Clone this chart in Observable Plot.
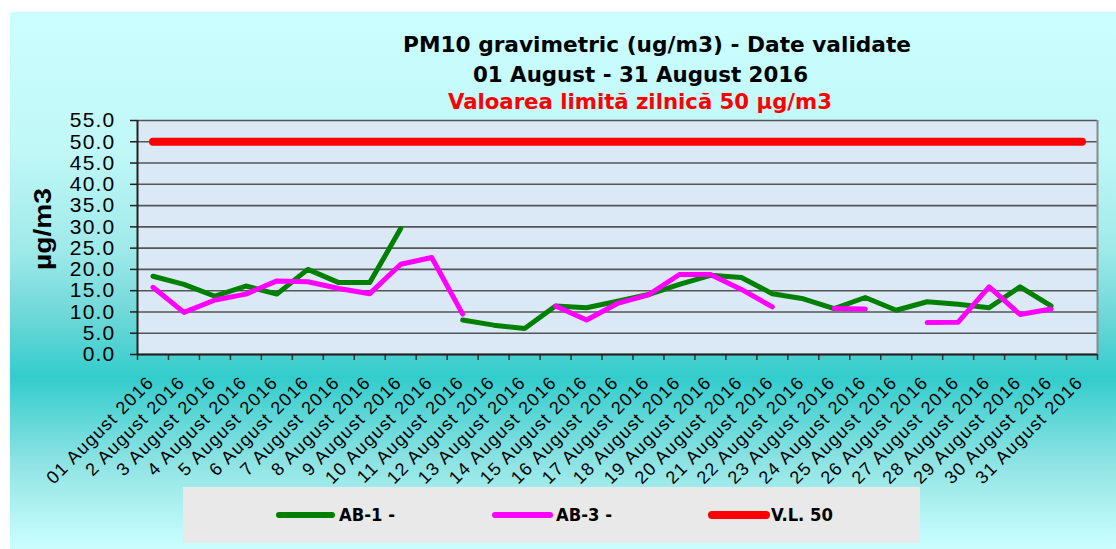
<!DOCTYPE html>
<html><head><meta charset="utf-8">
<script src="https://cdn.jsdelivr.net/npm/d3@7"></script>
<script src="https://cdn.jsdelivr.net/npm/@observablehq/plot@0.6"></script>
<style>
body{margin:0;background:#fff;}
#wrap{position:relative;width:1116px;height:549px;overflow:hidden;}
#wrap svg{position:absolute;left:0;top:0;}
g[aria-label="y-axis tick label"]{letter-spacing:1.2px;}
g[aria-label="x-axis tick label"]{letter-spacing:1.3px;}
</style></head><body><div id="wrap"></div>
<script>
// ---- data ----
const dates = ["01 August 2016","2 August 2016","3 August 2016","4 August 2016","5 August 2016","6 August 2016","7 August 2016","8 August 2016","9 August 2016","10 August 2016","11 August 2016","12 August 2016","13 August 2016","14 August 2016","15 August 2016","16 August 2016","17 August 2016","18 August 2016","19 August 2016","20 August 2016","21 August 2016","22 August 2016","23 August 2016","24 August 2016","25 August 2016","26 August 2016","27 August 2016","28 August 2016","29 August 2016","30 August 2016","31 August 2016"];
const ab1 = [18.4,16.5,13.7,16.1,14.2,20.0,16.9,16.9,29.6,null,8.1,6.9,6.1,11.4,11.0,12.5,14.1,16.5,18.6,18.1,14.3,13.1,10.8,13.4,10.4,12.4,11.8,11.0,15.9,11.4,null];
const ab3 = [15.8,9.9,12.8,14.2,17.3,17.1,15.5,14.3,21.2,22.8,9.5,null,null,11.4,8.1,12.0,14.0,18.8,18.8,15.3,11.2,null,10.8,10.7,null,7.5,7.6,15.9,9.4,10.7,null];
const vl = [50,50,50,50,50,50,50,50,50,50,50,50,50,50,50,50,50,50,50,50,50,50,50,50,50,50,50,50,50,50,50];
const yTicks = [0,5,10,15,20,25,30,35,40,45,50,55];
const seriesNames = ["AB-1 -","AB-3 -","V.L. 50"];
const titleLines = ["PM10 gravimetric (ug/m3) - Date validate","01 August - 31 August 2016","Valoarea limită zilnică 50 µg/m3"];
const yLabel = "µg/m3";

// ---- layout ----
const W = 1116, H = 549;
const colors = ["#008000","#ff00ff","#ff0000"];
const sans = "'Liberation Sans', Arial, sans-serif";
const wrap = d3.select("#wrap");
const bg = wrap.append("svg").attr("width", W).attr("height", H);
const defs = bg.append("defs");
const lg = defs.append("linearGradient").attr("id","bgGrad").attr("x1",0).attr("y1",0).attr("x2",0).attr("y2",1);
[[0,"#ccffff"],[0.26,"#c0f7f7"],[0.44,"#a0eaea"],[0.56,"#70d8d8"],[0.68,"#33cccc"],[0.84,"#8fe3e3"],[1,"#ccffff"]]
  .forEach(([o,c]) => lg.append("stop").attr("offset",o).attr("stop-color",c));
bg.append("rect").attr("x",10).attr("y",12).attr("width",W-10).attr("height",H-12).attr("fill","url(#bgGrad)");

const titleSpecs = [{x:403,y:52,len:508,fill:"#000"},{x:473,y:81.5,len:335,fill:"#000"},{x:448,y:109,len:384,fill:"#ff0000"}];
titleLines.forEach((t,i) => {
  const s = titleSpecs[i];
  bg.append("text").attr("x",s.x).attr("y",s.y).attr("fill",s.fill)
    .attr("font-family","'DejaVu Sans', Verdana, sans-serif").attr("font-stretch","condensed")
    .attr("font-weight","bold").attr("font-size",22)
    .attr("textLength",s.len).attr("lengthAdjust","spacingAndGlyphs").text(t);
});
bg.append("text").attr("transform","translate(50.5,229) rotate(-90)").attr("text-anchor","middle")
  .attr("font-family",sans).attr("font-weight","bold").attr("font-size",24)
  .attr("textLength",82).attr("lengthAdjust","spacingAndGlyphs").text(yLabel);

// legend
bg.append("rect").attr("x",183).attr("y",487).attr("width",737).attr("height",56).attr("fill","#e9e9e9");
const legSpecs = [{x1:279,x2:332,tx:339,len:56,w:6},{x1:495,x2:550,tx:556,len:56,w:6},{x1:712,x2:766,tx:771,len:62,w:8}];
seriesNames.forEach((n,i) => {
  const s = legSpecs[i];
  bg.append("line").attr("x1",s.x1).attr("x2",s.x2).attr("y1",515).attr("y2",515)
    .attr("stroke",colors[i]).attr("stroke-width",s.w).attr("stroke-linecap","round");
  bg.append("text").attr("x",s.tx).attr("y",521).attr("fill","#000")
    .attr("font-family","'DejaVu Sans', Verdana, sans-serif").attr("font-stretch","condensed")
    .attr("font-weight","bold").attr("font-size",17)
    .attr("textLength",s.len).attr("lengthAdjust","spacingAndGlyphs").text(n);
});

// ---- plot ----
const rows = dates.map((date,i) => ({day:i+1, date, ab1:ab1[i], ab3:ab3[i], vl:vl[i]}));
const dayNums = rows.map(r => r.day);
const bounds = [0.5, ...dayNums.map(d => d + 0.5)];

const chart = Plot.plot({
  width: W, height: H,
  marginLeft: 137, marginRight: 19, marginTop: 120, marginBottom: 195,
  style: {background:"transparent", fontFamily:sans, color:"#000", overflow:"visible"},
  x: {type:"linear", domain:[0.5, 31.5]},
  y: {domain:[0, 55]},
  marks: [
    Plot.frame({fill:"#dbe8f6", stroke:null}),
    Plot.gridY(yTicks, {stroke:"#555", strokeOpacity:1, strokeWidth:1.6}),
    Plot.ruleX([31.5], {stroke:"#8a8a8a", strokeWidth:2}),
    Plot.axisY({ticks:yTicks, tickFormat:d => d.toFixed(1), tickSize:7, tickPadding:15, fontSize:21, fontFamily:sans, label:null, stroke:"#222", strokeWidth:1.5, fill:"#000"}),
    Plot.axisX({ticks:bounds, tickSize:6, tickFormat:() => "", label:null, stroke:"#333", strokeWidth:1.5}),
    Plot.axisX({ticks:dayNums, tickSize:0, tickPadding:25, tickRotate:-45, textAnchor:"end", lineAnchor:"middle", dx:-2, fontSize:18, fontFamily:sans, tickFormat:d => dates[d-1], label:null, fill:"#000"}),
    Plot.ruleX([0.5], {stroke:"#222", strokeWidth:2}),
    Plot.ruleY([0], {stroke:"#222", strokeWidth:2}),
    Plot.line(rows, {x:"day", y:"ab1", stroke:colors[0], strokeWidth:5}),
    Plot.line(rows, {x:"day", y:"ab3", stroke:colors[1], strokeWidth:5}),
    Plot.line(rows, {x:"day", y:"vl", stroke:colors[2], strokeWidth:8, strokeLinecap:"round"})
  ]
});
wrap.node().appendChild(chart);
</script></body></html>
